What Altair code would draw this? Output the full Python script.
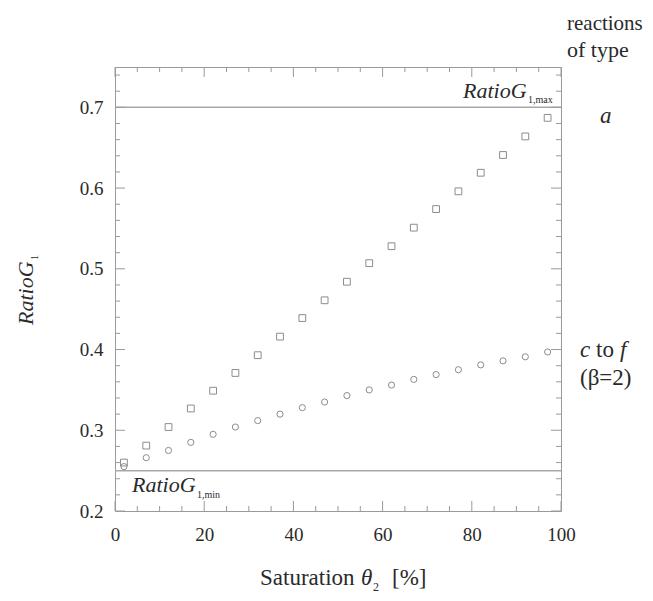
import altair as alt
import pandas as pd

# ---- data ----
saturation = [2, 7, 12, 17, 22, 27, 32, 37, 42, 47, 52, 57, 62, 67, 72, 77, 82, 87, 92, 97]
ratio_a = [0.260, 0.281, 0.304, 0.327, 0.349, 0.371, 0.393, 0.416, 0.439, 0.461,
           0.484, 0.507, 0.528, 0.551, 0.574, 0.596, 0.619, 0.641, 0.664, 0.687]
ratio_cf = [0.255, 0.266, 0.275, 0.285, 0.295, 0.304, 0.312, 0.320, 0.328, 0.335,
            0.343, 0.350, 0.356, 0.363, 0.369, 0.375, 0.381, 0.386, 0.391, 0.397]
series_names = ["a", "c to f"]
bounds = [0.25, 0.70]

x_major = [0, 20, 40, 60, 80, 100]
x_minor = [5, 10, 15, 25, 30, 35, 45, 50, 55, 65, 70, 75, 85, 90, 95]
y_major = [0.2, 0.3, 0.4, 0.5, 0.6, 0.7]
y_minor = [0.22, 0.24, 0.26, 0.28, 0.32, 0.34, 0.36, 0.38, 0.42, 0.44, 0.46, 0.48,
           0.52, 0.54, 0.56, 0.58, 0.62, 0.64, 0.66, 0.68, 0.72, 0.74]

W, H = 446, 444
SERIF = "'Liberation Serif', 'Times New Roman', Times, 'DejaVu Serif', serif"
GRAY = "#9a9a9a"
TXT = "#2a2a2a"

df = pd.DataFrame({
    "sat": saturation * 2,
    "ratio": ratio_a + ratio_cf,
    "series": [series_names[0]] * len(saturation) + [series_names[1]] * len(saturation),
})

xs = alt.Scale(domain=[0, 100], nice=False, zero=False)
ys = alt.Scale(domain=[0.2, 0.75], nice=False, zero=False)

points = alt.Chart(df).mark_point(filled=False, strokeWidth=1, color="#8c8c8c", opacity=1).encode(
    x=alt.X("sat:Q", scale=xs, axis=alt.Axis(values=x_major, ticks=False, domain=False, grid=False,
                                             labelFont=SERIF, labelFontSize=19, labelColor=TXT,
                                             labelPadding=14, labelFlush=False, title=None)),
    y=alt.Y("ratio:Q", scale=ys, axis=alt.Axis(values=y_major, format=".1f", ticks=False, domain=False,
                                               grid=False, labelFont=SERIF, labelFontSize=19,
                                               labelColor=TXT, labelPadding=12, title=None)),
    shape=alt.Shape("series:N", scale=alt.Scale(domain=series_names, range=["square", "circle"]), legend=None),
    size=alt.Size("series:N", scale=alt.Scale(domain=series_names, range=[46, 38]), legend=None),
)

rules = alt.Chart(pd.DataFrame({"b": bounds})).mark_rule(color="#a8a8a8", strokeWidth=1.5).encode(
    y=alt.Y("b:Q", scale=ys)
)

def yticks(vals, length):
    d = alt.Chart(pd.DataFrame({"v": vals}))
    left = d.mark_rule(color=GRAY, strokeWidth=1).encode(y=alt.Y("v:Q", scale=ys), x=alt.value(0), x2=alt.value(length))
    right = d.mark_rule(color=GRAY, strokeWidth=1).encode(y=alt.Y("v:Q", scale=ys), x=alt.value(W), x2=alt.value(W - length))
    return [left, right]

def xticks(vals, length):
    d = alt.Chart(pd.DataFrame({"v": vals}))
    bottom = d.mark_rule(color=GRAY, strokeWidth=1).encode(x=alt.X("v:Q", scale=xs), y=alt.value(H), y2=alt.value(H - length))
    top = d.mark_rule(color=GRAY, strokeWidth=1).encode(x=alt.X("v:Q", scale=xs), y=alt.value(0), y2=alt.value(length))
    return [bottom, top]

def label(text, x, y, size=22, style="normal", angle=0, align="left"):
    kw = dict(font=SERIF, fontSize=size, fontStyle=style, color=TXT, align=align, baseline="alphabetic")
    if angle:
        kw["angle"] = angle
    return alt.Chart(pd.DataFrame({"t": [text]})).mark_text(**kw).encode(
        text="t:N", x=alt.value(x), y=alt.value(y))

texts = [
    # bound labels
    label("RatioG", 348, 31, 22, "italic"),
    label("1,max", 413, 36, 10),
    label("RatioG", 17, 425, 22, "italic"),
    label("1,min", 82, 431, 10),
    # y title
    label("RatioG", -82, 258, 22, "italic", angle=270),
    label("1", -77, 193, 10, angle=270),
    # x title
    label("Saturation", 145, 518, 23),
    label("θ", 246, 518, 23, "italic"),
    label("2", 258, 524, 12),
    label("[%]", 277, 518, 23),
    # right side annotations
    label("reactions", 452, -37, 21),
    label("of type", 452, -10, 22),
    label("a", 485, 56, 23, "italic"),
    label("c", 465, 290, 23, "italic"),
    label("to", 481, 290, 23),
    label("f", 505, 290, 23, "italic"),
    label("(β=2)", 465, 318, 23),
]

chart = alt.layer(
    rules, *yticks(y_major, 10), *yticks(y_minor, 5), *xticks(x_major, 10), *xticks(x_minor, 5),
    points, *texts
).properties(
    width=W, height=H,
    autosize=alt.AutoSizeParams(type="none"),
    padding={"left": 107, "top": 59, "right": 84, "bottom": 82},
).configure_view(stroke=GRAY, strokeWidth=1)

chart.save("out.html", embed_options={"renderer": "svg", "actions": False})
